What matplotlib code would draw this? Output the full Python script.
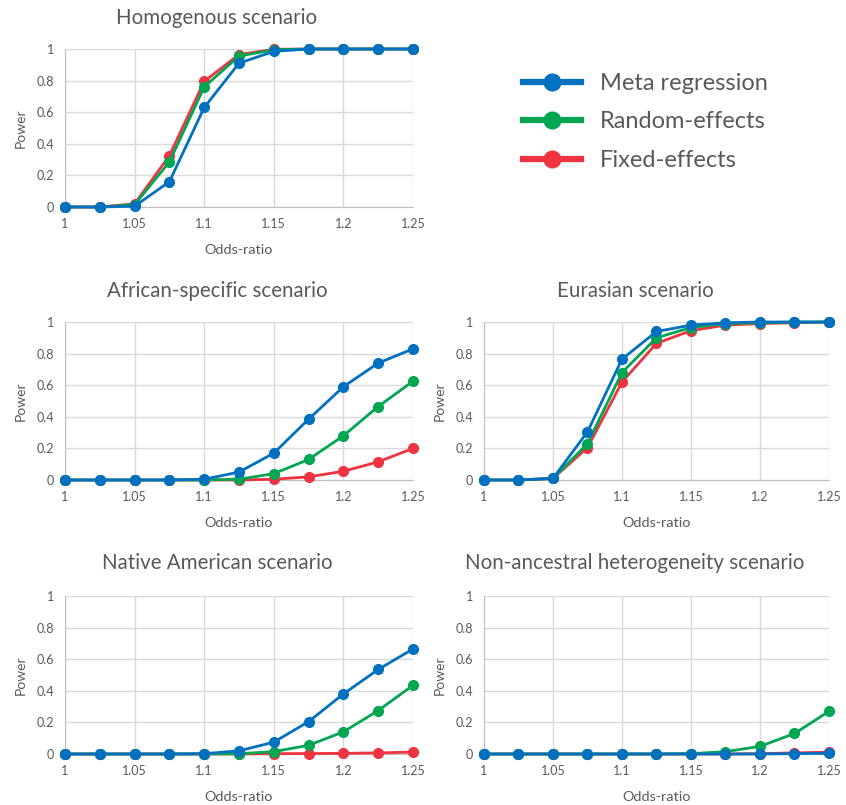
#!/usr/bin/env python3
"""Power of meta-analysis methods across ancestry scenarios"""

import matplotlib.pyplot as plt
from matplotlib.lines import Line2D
import numpy as np

plt.rcParams["font.family"] = ["Lato", "DejaVu Sans"]

odds_ratio = [1.0, 1.025, 1.05, 1.075, 1.1, 1.125, 1.15, 1.175, 1.2, 1.225, 1.25]

homog_meta = [0, 0, 0.005, 0.16, 0.63, 0.91, 0.985, 1, 1, 1, 1]
homog_random = [0, 0, 0.015, 0.285, 0.76, 0.955, 0.995, 1, 1, 1, 1]
homog_fixed = [0, 0, 0.02, 0.325, 0.795, 0.965, 0.998, 1, 1, 1, 1]

afr_meta = [0, 0, 0, 0, 0.005, 0.05, 0.17, 0.385, 0.59, 0.74, 0.83]
afr_random = [0, 0, 0, 0, 0, 0.005, 0.04, 0.13, 0.28, 0.465, 0.625]
afr_fixed = [0, 0, 0, 0, 0, 0, 0.005, 0.02, 0.055, 0.115, 0.2]

eur_meta = [0, 0, 0.01, 0.305, 0.765, 0.94, 0.98, 0.995, 1, 1, 1]
eur_random = [0, 0, 0.01, 0.23, 0.68, 0.9, 0.965, 0.99, 0.995, 1, 1]
eur_fixed = [0, 0, 0.01, 0.205, 0.62, 0.865, 0.945, 0.98, 0.99, 0.995, 1]

nat_meta = [0, 0, 0, 0, 0.002, 0.02, 0.075, 0.205, 0.38, 0.535, 0.665]
nat_random = [0, 0, 0, 0, 0, 0.002, 0.015, 0.055, 0.14, 0.275, 0.435]
nat_fixed = [0, 0, 0, 0, 0, 0, 0.002, 0.003, 0.004, 0.007, 0.012]

nonanc_meta = [0, 0, 0, 0, 0, 0, 0, 0, 0, 0.002, 0.005]
nonanc_random = [0, 0, 0, 0, 0, 0, 0.002, 0.015, 0.048, 0.13, 0.27]
nonanc_fixed = [0, 0, 0, 0, 0, 0, 0, 0, 0.002, 0.007, 0.012]

methods = ["Meta regression", "Random-effects", "Fixed-effects"]
colors = ["#0070C0", "#00A651", "#EE3440"]

panels = [
    ("Homogenous scenario", homog_meta, homog_random, homog_fixed),
    ("African-specific scenario", afr_meta, afr_random, afr_fixed),
    ("Eurasian scenario", eur_meta, eur_random, eur_fixed),
    ("Native American scenario", nat_meta, nat_random, nat_fixed),
    ("Non-ancestral heterogeneity scenario", nonanc_meta, nonanc_random, nonanc_fixed),
]

W, H = 846, 805
fig = plt.figure(figsize=(W / 100, H / 100), dpi=100)

# axes boxes in pixels: left, right, top, bottom, title centre x, title y
boxes = [
    (65, 413, 49, 207, 217, 18),
    (65, 413, 322, 480, 217, 291),
    (484, 829, 322, 480, 635, 291),
    (65, 413, 596, 754, 217, 563),
    (484, 829, 596, 754, 635, 563),
]

text_gray = "#595959"
grid_gray = "#D9D9D9"

for (title, meta, rand, fixed), (l, r, t, b, tx, ty) in zip(panels, boxes):
    ax = fig.add_axes([l / W, 1 - b / H, (r - l) / W, (b - t) / H])
    series = [meta, rand, fixed]
    for vals, col in reversed(list(zip(series, colors))):
        ax.plot(odds_ratio, vals, color=col, lw=2, marker="o", ms=7,
                clip_on=False, zorder=3)
    ax.set_xlim(1.0, 1.25)
    ax.set_ylim(0, 1)
    ax.set_xticks(np.arange(1.0, 1.2501, 0.05))
    ax.set_xticklabels(["1", "1.05", "1.1", "1.15", "1.2", "1.25"])
    ax.set_yticks(np.arange(0, 1.01, 0.2))
    ax.set_yticklabels(["0", "0.2", "0.4", "0.6", "0.8", "1"])
    ax.grid(True, color=grid_gray, lw=1)
    ax.set_axisbelow(True)
    for side in ["top", "right"]:
        ax.spines[side].set_visible(False)
    for side in ["left", "bottom"]:
        ax.spines[side].set_color("#BFBFBF")
    ax.tick_params(length=0, labelsize=9, labelcolor=text_gray, pad=8)
    ax.set_ylabel("Power", fontsize=10, color=text_gray, labelpad=7)
    ax.set_xlabel("Odds-ratio", fontsize=10.4, color=text_gray, labelpad=10)
    fig.text(tx / W, 1 - ty / H, title, fontsize=14.8, color=text_gray,
             ha="center", va="center")

handles = [Line2D([], [], color=c, lw=4.5, marker="o", ms=12) for c in colors]
fig.legend(handles, methods, loc="center left",
           bbox_to_anchor=(502 / W, 1 - 122 / H), frameon=False,
           fontsize=17, labelcolor=text_gray, handlelength=2.45,
           handletextpad=0.8, labelspacing=0.74)

fig.savefig("out.png", dpi=100)
